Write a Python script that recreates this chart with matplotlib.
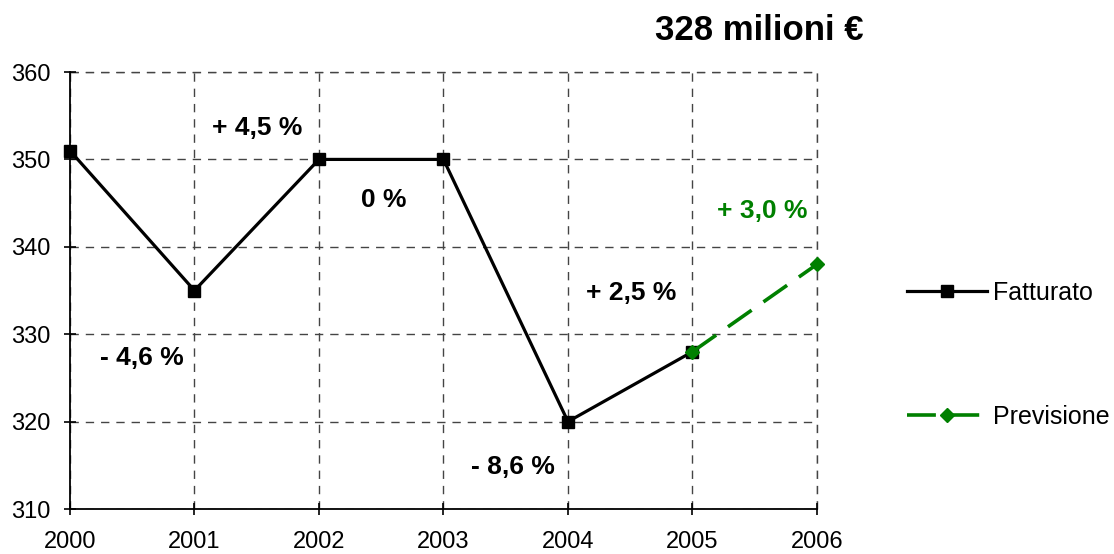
import matplotlib
matplotlib.use("Agg")
import matplotlib.pyplot as plt

plt.rcParams['font.family'] = ['Liberation Sans', 'DejaVu Sans']

years = [2000, 2001, 2002, 2003, 2004, 2005]
fatturato = [351, 335, 350, 350, 320, 328]
prev_years = [2005, 2006]
previsione = [328, 338]

# variation labels: text, x, y, colour
var_text = ['- 4,6 %', '+ 4,5 %', '0 %', '- 8,6 %', '+ 2,5 %', '+ 3,0 %']
var_x = [2000.58, 2001.5, 2002.52, 2003.56, 2004.51, 2005.56]
var_y = [327.3, 353.6, 345.4, 314.8, 334.7, 344.1]
var_col = ['black', 'black', 'black', 'black', 'black', 'green']

title = '328 milioni €'

fig = plt.figure(figsize=(11.14, 5.54), dpi=100)
ax = fig.add_axes([0.0628, 0.0812, 0.6706, 0.7888])

ax.plot(years, fatturato, color='black', lw=2.3, marker='s', ms=9,
        label='Fatturato', zorder=3, clip_on=False)
ax.plot(prev_years, previsione, color='green', lw=2.6, marker='D', ms=7,
        dashes=(8, 4), label='Previsione', zorder=4, clip_on=False)

grid_style = dict(color='#444444', lw=1, linestyle=(0, (6, 5)))

ax.set_xlim(2000, 2006)
ax.set_ylim(310, 360)
ax.set_xticks(range(2000, 2007))
ax.set_yticks(range(310, 361, 10))
ax.tick_params(axis='both', direction='inout', length=8, width=1.2,
               labelsize=17, colors='black')
ax.tick_params(axis='x', pad=12)
ax.tick_params(axis='y', pad=10)
for s in ('top', 'right'):
    ax.spines[s].set_visible(False)
for s in ('left', 'bottom'):
    ax.spines[s].set_linewidth(1.3)
    ax.spines[s].set_zorder(2.5)
ax.grid(True, **grid_style)
ax.set_axisbelow(True)
ax.axvline(2006, zorder=0, clip_on=False, **grid_style)
ax.axhline(360, zorder=0, clip_on=False, **grid_style)

for t, x, y, c in zip(var_text, var_x, var_y, var_col):
    ax.text(x, y, t, ha='center', va='center', fontsize=19,
            fontweight='bold', color=c)

fig.text(0.682, 0.945, title, ha='center', va='center', fontsize=25,
         fontweight='bold')

leg = ax.legend(loc='center left', bbox_to_anchor=(1.1205, 0.352),
                frameon=False, fontsize=18, handlelength=3.2,
                labelspacing=4.0, handletextpad=0.25, borderpad=0,
                borderaxespad=0)

fig.savefig('out.png', dpi=100)
